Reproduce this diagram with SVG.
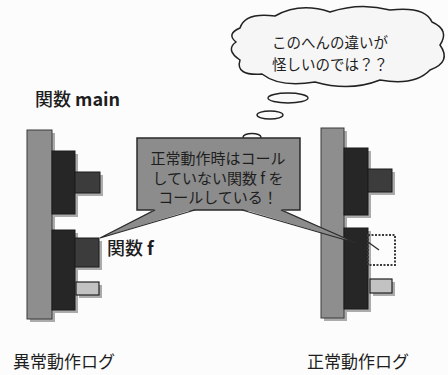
<svg xmlns="http://www.w3.org/2000/svg" width="448" height="375" viewBox="0 0 448 375">
<defs>
<style>
.jp{font-family:"Noto Sans CJK JP","Liberation Sans",sans-serif;fill:#1e1e1e}
.bar{fill:#8e8e8e;stroke:#3a3a3a;stroke-width:1}
.blk{fill:#262626;stroke:#1a1a1a;stroke-width:1}
.sub{fill:#3c3c3c;stroke:#1a1a1a;stroke-width:1}
.lite{fill:#c2c2c2;stroke:#222;stroke-width:1.2}
.sh{fill:#ababab}
.call{fill:#8c8c8c}
.edge{fill:none;stroke:#2a2a2a;stroke-width:1.3}
</style>
</defs>
<rect width="448" height="375" fill="#fcfcfc"/>

<g id="stack-abnormal">
<rect class="sh" x="30" y="133" width="25" height="189"/>
<rect class="sh" x="55" y="154" width="23" height="63"/>
<rect class="sh" x="78" y="175" width="25" height="21"/>
<rect class="sh" x="55" y="233" width="23" height="80"/>
<rect class="sh" x="78" y="241" width="24" height="29"/>
<rect class="sh" x="79" y="285" width="23" height="13"/>
<rect class="bar" x="27" y="130" width="25" height="189"/>
<rect class="blk" x="52" y="151" width="23" height="63"/>
<rect class="sub" x="75" y="172" width="25" height="21"/>
<rect class="blk" x="52" y="230" width="23" height="80"/>
<rect class="sub" x="75" y="238" width="24" height="29"/>
<rect class="lite" x="76" y="282" width="23" height="13"/>
</g>

<g id="stack-normal">
<rect class="sh" x="324" y="131" width="23" height="190"/>
<rect class="sh" x="347" y="151" width="24" height="67"/>
<rect class="sh" x="371" y="172" width="24" height="23"/>
<rect class="sh" x="347" y="231" width="24" height="81"/>
<rect class="sh" x="373" y="282" width="22" height="14"/>
<rect class="bar" x="321" y="128" width="23" height="190"/>
<rect class="blk" x="344" y="148" width="24" height="67"/>
<rect class="sub" x="368" y="169" width="24" height="23"/>
<rect class="blk" x="344" y="228" width="24" height="81"/>
<rect x="368" y="235" width="27" height="30" fill="none" stroke="#3a3a3a" stroke-width="2" stroke-dasharray="2 1.5"/>
<rect class="lite" x="370" y="279" width="22" height="14"/>
</g>

<g id="label-main"><text class="jp" x="35" y="106" font-size="18" font-weight="500">関数 <tspan font-weight="bold">main</tspan></text></g>
<g id="label-f"><text class="jp" x="107" y="255" font-size="18" font-weight="500">関数 <tspan font-weight="bold">f</tspan></text></g>

<g id="thought-cloud">
<path d="M240,28 Q245,12 275,16 Q300,2 330,12 Q360,2 390,10 Q425,6 432,22 Q450,30 440,45 Q452,62 430,70 Q415,86 380,80 Q350,92 315,82 Q280,88 262,74 Q235,76 240,60 Q225,50 236,42 Q226,34 240,28 Z" fill="#f6f6f6" stroke="#222" stroke-width="1.5"/>
<text class="jp" x="272" y="48" font-size="14.5">このへんの違いが</text>
<text class="jp" x="272" y="70" font-size="14.5">怪しいのでは？？</text>
<ellipse cx="288" cy="98" rx="20" ry="5" fill="#fafafa" stroke="#222" stroke-width="1.4"/>
<ellipse cx="270" cy="115" rx="13" ry="4" fill="#fafafa" stroke="#222" stroke-width="1.4"/>
<ellipse cx="252" cy="137" rx="9" ry="3.5" fill="#fafafa" stroke="#222" stroke-width="1.4"/>
</g>

<g id="callout">
<rect class="call" x="137" y="138" width="163" height="72" stroke="#2a2a2a" stroke-width="1.5"/>
<text class="jp" x="218" y="164" font-size="15" text-anchor="middle">正常動作時はコール</text>
<text class="jp" x="218" y="184" font-size="15" text-anchor="middle">していない関数 f を</text>
<text class="jp" x="218" y="203" font-size="15" text-anchor="middle">コールしている！</text>
</g>

<g id="connectors">
<polygon class="call" points="155,209 195,209 100,238"/>
<polyline class="edge" points="155,210 100,238 195,210"/>
<polygon class="call" points="242,209 281,209 356,243"/>
<polyline class="edge" points="242,210 356,243 281,210"/>
<line x1="368" y1="242" x2="379" y2="250" stroke="#2a2a2a" stroke-width="1.3"/>
</g>

<g id="label-abnormal"><text class="jp" x="13" y="368" font-size="17">異常動作ログ</text></g>
<g id="label-normal"><text class="jp" x="307" y="368" font-size="17">正常動作ログ</text></g>
</svg>
